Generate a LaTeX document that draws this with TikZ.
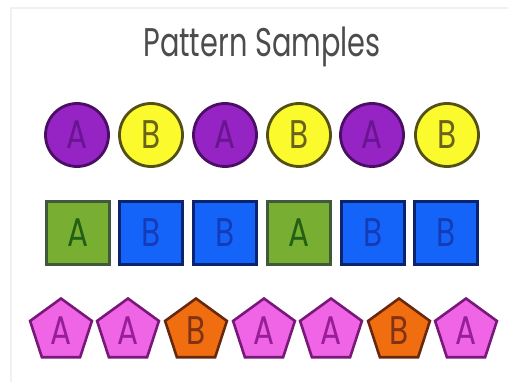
\documentclass[tikz,border=0pt]{standalone}
\usepackage{fontspec}
\usepackage{xcolor}
\setmainfont{Poppins}
\usetikzlibrary{shapes.geometric}
\definecolor{patpurple}{RGB}{150,35,195}
\definecolor{patpurpleink}{RGB}{105,20,145}
\definecolor{patyellow}{RGB}{250,250,45}
\definecolor{patyellowink}{RGB}{105,100,25}
\definecolor{patgreen}{RGB}{120,175,50}
\definecolor{patgreenink}{RGB}{35,95,20}
\definecolor{patblue}{RGB}{20,100,250}
\definecolor{patblueink}{RGB}{20,60,185}
\definecolor{patpink}{RGB}{240,100,230}
\definecolor{patpinkink}{RGB}{150,30,150}
\definecolor{patorange}{RGB}{240,110,15}
\definecolor{patorangeink}{RGB}{130,50,20}
\newcommand\patletter[1]{\scalebox{0.78}[1]{#1}}

\begin{document}
\begin{tikzpicture}[x=1pt, y=-1pt, every node/.style={font=\fontsize{40}{40}\selectfont}]
  \tikzset{
    dot/.style={circle, draw, line width=2.8pt, minimum size=63pt, inner sep=0pt},
    tile/.style={rectangle, draw, line width=2.8pt, minimum size=63pt, inner sep=0pt},
    penta/.style={regular polygon, regular polygon sides=5, draw, line width=2.6pt, minimum size=65pt, inner sep=0pt},
    dotA/.style={dot, fill=patpurple, draw=patpurpleink!70!black, text=patpurpleink},
    dotB/.style={dot, fill=patyellow, draw=patyellowink!80!black, text=patyellowink},
    tileA/.style={tile, fill=patgreen, draw=patgreenink!50!black!80, text=patgreenink},
    tileB/.style={tile, fill=patblue, draw=patblueink!60!black, text=patblueink},
    pentaA/.style={penta, fill=patpink, draw=patpinkink!80!black, text=patpinkink},
    pentaB/.style={penta, fill=patorange, draw=patorangeink!80!black, text=patorangeink}
  }
  \useasboundingbox[fill=white] (0,0) rectangle (508,382);
  \draw[black!6, line width=2pt] (11,382) -- (11,8) -- (508,8);

  \node[font=\fontsize{40}{40}\selectfont, text=black!70, transform shape, xscale=0.72] (title) at (262,47) {Pattern Samples};

  % circles
  \node[dotA] (c1) at (77,135)  {\patletter{A}};
  \node[dotB] (c2) at (151,135) {\patletter{B}};
  \node[dotA] (c3) at (225,135) {\patletter{A}};
  \node[dotB] (c4) at (299,135) {\patletter{B}};
  \node[dotA] (c5) at (372,135) {\patletter{A}};
  \node[dotB] (c6) at (447,135) {\patletter{B}};

  % squares
  \node[tileA] (s1) at (78,233)  {\patletter{A}};
  \node[tileB] (s2) at (151,233) {\patletter{B}};
  \node[tileB] (s3) at (225,233) {\patletter{B}};
  \node[tileA] (s4) at (299,233) {\patletter{A}};
  \node[tileB] (s5) at (373,233) {\patletter{B}};
  \node[tileB] (s6) at (446,233) {\patletter{B}};

  % pentagons
  \node[pentaA] (p1) at (61,331)  {\patletter{A}};
  \node[pentaA] (p2) at (128,331) {\patletter{A}};
  \node[pentaB] (p3) at (196,331) {\patletter{B}};
  \node[pentaA] (p4) at (264,331) {\patletter{A}};
  \node[pentaA] (p5) at (331,331) {\patletter{A}};
  \node[pentaB] (p6) at (399,331) {\patletter{B}};
  \node[pentaA] (p7) at (466,331) {\patletter{A}};
\end{tikzpicture}
\end{document}
